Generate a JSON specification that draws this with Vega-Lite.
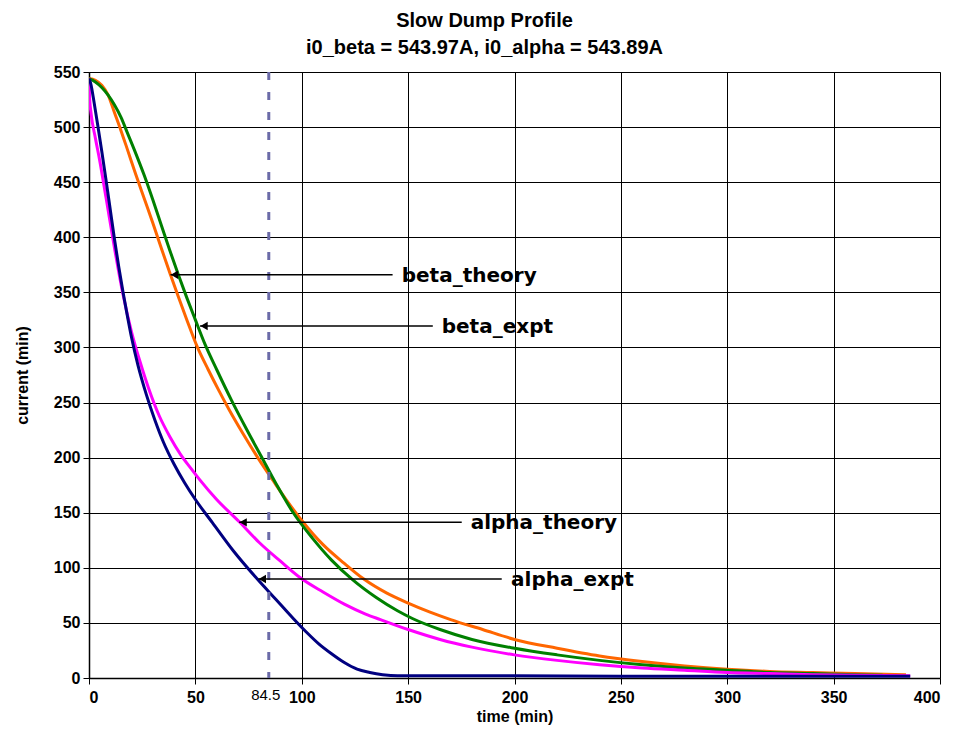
{
  "$schema": "https://vega.github.io/schema/vega-lite/v6.json",
  "width": 851,
  "height": 606,
  "autosize": "none",
  "padding": {"left": 89, "top": 72, "right": 19, "bottom": 58},
  "background": "white",
  "title": {
    "text": "Slow Dump Profile",
    "subtitle": "i0_beta = 543.97A, i0_alpha = 543.89A",
    "font": "Liberation Sans", "fontSize": 20, "fontWeight": "bold", "color": "black",
    "subtitleFont": "Liberation Sans", "subtitleFontSize": 20, "subtitleFontWeight": "bold", "subtitleColor": "black",
    "anchor": "middle", "dx": -30, "offset": 6, "subtitlePadding": 7
  },
  "config": {
    "view": {"stroke": "#909090", "strokeWidth": 1},
    "axis": {
      "labelFont": "Liberation Sans", "labelFontSize": 16, "labelFontWeight": "bold", "labelColor": "black",
      "titleFont": "Liberation Sans", "titleFontSize": 16, "titleFontWeight": "bold", "titleColor": "black",
      "domainColor": "black", "tickColor": "black", "gridColor": "black", "gridOpacity": 1, "gridWidth": 1,
      "tickSize": 6, "domainWidth": 1.5
    }
  },
  "datasets": {
    "curves": [
      {"series": "beta_theory", "t": 0, "i": 544}, {"series": "beta_theory", "t": 3, "i": 542.5}, {"series": "beta_theory", "t": 6, "i": 538},
      {"series": "beta_theory", "t": 9, "i": 529}, {"series": "beta_theory", "t": 12, "i": 513}, {"series": "beta_theory", "t": 15, "i": 497},
      {"series": "beta_theory", "t": 18, "i": 480}, {"series": "beta_theory", "t": 22, "i": 457}, {"series": "beta_theory", "t": 26, "i": 435},
      {"series": "beta_theory", "t": 30, "i": 413}, {"series": "beta_theory", "t": 34, "i": 390}, {"series": "beta_theory", "t": 38.3, "i": 366},
      {"series": "beta_theory", "t": 42, "i": 346}, {"series": "beta_theory", "t": 46, "i": 325}, {"series": "beta_theory", "t": 51, "i": 300},
      {"series": "beta_theory", "t": 56, "i": 280}, {"series": "beta_theory", "t": 61, "i": 261}, {"series": "beta_theory", "t": 66, "i": 243},
      {"series": "beta_theory", "t": 72, "i": 223}, {"series": "beta_theory", "t": 80, "i": 198}, {"series": "beta_theory", "t": 86.6, "i": 179},
      {"series": "beta_theory", "t": 93, "i": 161}, {"series": "beta_theory", "t": 100, "i": 143}, {"series": "beta_theory", "t": 110, "i": 121},
      {"series": "beta_theory", "t": 120, "i": 104}, {"series": "beta_theory", "t": 129, "i": 90}, {"series": "beta_theory", "t": 140, "i": 77},
      {"series": "beta_theory", "t": 150, "i": 68}, {"series": "beta_theory", "t": 160, "i": 60}, {"series": "beta_theory", "t": 170, "i": 53},
      {"series": "beta_theory", "t": 185, "i": 44}, {"series": "beta_theory", "t": 200, "i": 35}, {"series": "beta_theory", "t": 220, "i": 27},
      {"series": "beta_theory", "t": 240, "i": 20}, {"series": "beta_theory", "t": 260, "i": 15}, {"series": "beta_theory", "t": 280, "i": 11},
      {"series": "beta_theory", "t": 300, "i": 8}, {"series": "beta_theory", "t": 320, "i": 6}, {"series": "beta_theory", "t": 340, "i": 5},
      {"series": "beta_theory", "t": 360, "i": 4}, {"series": "beta_theory", "t": 384, "i": 3},

      {"series": "beta_expt", "t": 0, "i": 544}, {"series": "beta_expt", "t": 3, "i": 541}, {"series": "beta_expt", "t": 6, "i": 536},
      {"series": "beta_expt", "t": 9, "i": 529}, {"series": "beta_expt", "t": 12, "i": 520}, {"series": "beta_expt", "t": 15, "i": 509},
      {"series": "beta_expt", "t": 18, "i": 495}, {"series": "beta_expt", "t": 21.6, "i": 478}, {"series": "beta_expt", "t": 26, "i": 456},
      {"series": "beta_expt", "t": 30, "i": 434}, {"series": "beta_expt", "t": 34, "i": 411}, {"series": "beta_expt", "t": 38, "i": 388},
      {"series": "beta_expt", "t": 42, "i": 366}, {"series": "beta_expt", "t": 46, "i": 345}, {"series": "beta_expt", "t": 50, "i": 325},
      {"series": "beta_expt", "t": 54.5, "i": 303}, {"series": "beta_expt", "t": 60, "i": 280}, {"series": "beta_expt", "t": 67, "i": 252},
      {"series": "beta_expt", "t": 74, "i": 226}, {"series": "beta_expt", "t": 81, "i": 201}, {"series": "beta_expt", "t": 88, "i": 176},
      {"series": "beta_expt", "t": 96, "i": 150}, {"series": "beta_expt", "t": 105, "i": 127}, {"series": "beta_expt", "t": 114, "i": 107},
      {"series": "beta_expt", "t": 124, "i": 89}, {"series": "beta_expt", "t": 135, "i": 73}, {"series": "beta_expt", "t": 145, "i": 61},
      {"series": "beta_expt", "t": 152, "i": 54}, {"series": "beta_expt", "t": 165, "i": 44}, {"series": "beta_expt", "t": 180, "i": 35},
      {"series": "beta_expt", "t": 200, "i": 27}, {"series": "beta_expt", "t": 220, "i": 21}, {"series": "beta_expt", "t": 240, "i": 16},
      {"series": "beta_expt", "t": 260, "i": 12}, {"series": "beta_expt", "t": 280, "i": 9}, {"series": "beta_expt", "t": 300, "i": 7},
      {"series": "beta_expt", "t": 320, "i": 5}, {"series": "beta_expt", "t": 340, "i": 4}, {"series": "beta_expt", "t": 360, "i": 3},
      {"series": "beta_expt", "t": 373, "i": 2.5},

      {"series": "alpha_theory", "t": 0, "i": 544}, {"series": "alpha_theory", "t": 0.3, "i": 526}, {"series": "alpha_theory", "t": 1, "i": 512},
      {"series": "alpha_theory", "t": 3, "i": 490}, {"series": "alpha_theory", "t": 5, "i": 470}, {"series": "alpha_theory", "t": 8, "i": 436},
      {"series": "alpha_theory", "t": 12, "i": 390}, {"series": "alpha_theory", "t": 16, "i": 348}, {"series": "alpha_theory", "t": 20, "i": 314},
      {"series": "alpha_theory", "t": 24, "i": 287}, {"series": "alpha_theory", "t": 28, "i": 263}, {"series": "alpha_theory", "t": 33, "i": 238},
      {"series": "alpha_theory", "t": 38, "i": 219}, {"series": "alpha_theory", "t": 43, "i": 203}, {"series": "alpha_theory", "t": 48, "i": 190},
      {"series": "alpha_theory", "t": 52, "i": 180}, {"series": "alpha_theory", "t": 60, "i": 162}, {"series": "alpha_theory", "t": 70.5, "i": 142},
      {"series": "alpha_theory", "t": 80, "i": 123}, {"series": "alpha_theory", "t": 90, "i": 106}, {"series": "alpha_theory", "t": 100, "i": 90},
      {"series": "alpha_theory", "t": 110, "i": 78}, {"series": "alpha_theory", "t": 120, "i": 67}, {"series": "alpha_theory", "t": 130, "i": 58},
      {"series": "alpha_theory", "t": 137, "i": 53}, {"series": "alpha_theory", "t": 150, "i": 44}, {"series": "alpha_theory", "t": 165, "i": 35},
      {"series": "alpha_theory", "t": 180, "i": 28}, {"series": "alpha_theory", "t": 200, "i": 21}, {"series": "alpha_theory", "t": 220, "i": 16},
      {"series": "alpha_theory", "t": 240, "i": 12}, {"series": "alpha_theory", "t": 260, "i": 9}, {"series": "alpha_theory", "t": 280, "i": 7},
      {"series": "alpha_theory", "t": 300, "i": 5}, {"series": "alpha_theory", "t": 320, "i": 4}, {"series": "alpha_theory", "t": 340, "i": 3},
      {"series": "alpha_theory", "t": 360, "i": 2.5}, {"series": "alpha_theory", "t": 386, "i": 2},

      {"series": "alpha_expt", "t": 0, "i": 544}, {"series": "alpha_expt", "t": 1, "i": 538}, {"series": "alpha_expt", "t": 2, "i": 527},
      {"series": "alpha_expt", "t": 4, "i": 503}, {"series": "alpha_expt", "t": 6, "i": 478}, {"series": "alpha_expt", "t": 8, "i": 452},
      {"series": "alpha_expt", "t": 10, "i": 425}, {"series": "alpha_expt", "t": 12, "i": 398}, {"series": "alpha_expt", "t": 14, "i": 373},
      {"series": "alpha_expt", "t": 16, "i": 350}, {"series": "alpha_expt", "t": 18, "i": 329}, {"series": "alpha_expt", "t": 20, "i": 309},
      {"series": "alpha_expt", "t": 23, "i": 284}, {"series": "alpha_expt", "t": 27, "i": 257}, {"series": "alpha_expt", "t": 31, "i": 234},
      {"series": "alpha_expt", "t": 35, "i": 214}, {"series": "alpha_expt", "t": 40, "i": 194}, {"series": "alpha_expt", "t": 45, "i": 177},
      {"series": "alpha_expt", "t": 50, "i": 162}, {"series": "alpha_expt", "t": 58, "i": 141}, {"series": "alpha_expt", "t": 68, "i": 115},
      {"series": "alpha_expt", "t": 79, "i": 90}, {"series": "alpha_expt", "t": 88, "i": 71}, {"series": "alpha_expt", "t": 96, "i": 54},
      {"series": "alpha_expt", "t": 102, "i": 42}, {"series": "alpha_expt", "t": 108, "i": 31}, {"series": "alpha_expt", "t": 114, "i": 22},
      {"series": "alpha_expt", "t": 120, "i": 14}, {"series": "alpha_expt", "t": 126, "i": 8}, {"series": "alpha_expt", "t": 132, "i": 5},
      {"series": "alpha_expt", "t": 138, "i": 3}, {"series": "alpha_expt", "t": 145, "i": 2}, {"series": "alpha_expt", "t": 200, "i": 2},
      {"series": "alpha_expt", "t": 250, "i": 1.5}, {"series": "alpha_expt", "t": 300, "i": 1.5}, {"series": "alpha_expt", "t": 386, "i": 1.5}
    ],
    "marker": [{"t": 84.5, "label": "84.5"}],
    "notes": [
      {"label": "beta_theory", "tip": 38.3, "end": 142.7, "textx": 147, "i": 366},
      {"label": "beta_expt", "tip": 52.2, "end": 161.6, "textx": 165.8, "i": 319.5},
      {"label": "alpha_theory", "tip": 70.6, "end": 175.2, "textx": 179.4, "i": 141.3},
      {"label": "alpha_expt", "tip": 79.6, "end": 194, "textx": 198.4, "i": 89.9}
    ]
  },
  "layer": [
    {
      "data": {"name": "curves"},
      "mark": {"type": "line", "strokeWidth": 3, "interpolate": "monotone", "clip": true},
      "encoding": {
        "x": {"field": "t", "type": "quantitative", "scale": {"domain": [0, 400], "nice": false},
          "axis": {"values": [0, 50, 100, 150, 200, 250, 300, 350, 400], "title": "time (min)", "grid": true, "labelPadding": 5, "titlePadding": 3}},
        "y": {"field": "i", "type": "quantitative", "scale": {"domain": [0, 550], "nice": false},
          "axis": {"values": [0, 50, 100, 150, 200, 250, 300, 350, 400, 450, 500, 550], "title": "current (min)", "grid": true, "labelPadding": 3, "titlePadding": 23}},
        "color": {"field": "series", "type": "nominal",
          "scale": {"domain": ["beta_theory", "beta_expt", "alpha_theory", "alpha_expt"], "range": ["#FF6600", "#008000", "#FF00FF", "#000080"]},
          "legend": null}
      }
    },
    {
      "data": {"name": "marker"},
      "mark": {"type": "rule", "color": "#6B6BA8", "strokeWidth": 3, "strokeDash": [8, 12]},
      "encoding": {"x": {"field": "t", "type": "quantitative"}}
    },
    {
      "data": {"name": "marker"},
      "mark": {"type": "text", "font": "Liberation Sans", "fontSize": 15, "color": "black", "dy": 17, "dx": -3, "align": "center", "baseline": "middle"},
      "encoding": {"x": {"field": "t", "type": "quantitative"}, "y": {"datum": 0}, "text": {"field": "label"}}
    },
    {
      "data": {"name": "notes"},
      "mark": {"type": "rule", "color": "black", "strokeWidth": 1.5},
      "encoding": {"x": {"field": "tip", "type": "quantitative"}, "x2": {"field": "end"}, "y": {"field": "i", "type": "quantitative"}}
    },
    {
      "data": {"name": "notes"},
      "mark": {"type": "point", "shape": "triangle-left", "filled": true, "color": "black", "size": 70, "opacity": 1, "xOffset": 4},
      "encoding": {"x": {"field": "tip", "type": "quantitative"}, "y": {"field": "i", "type": "quantitative"}}
    },
    {
      "data": {"name": "notes"},
      "mark": {"type": "text", "font": "DejaVu Sans", "fontSize": 20, "fontWeight": "bold", "color": "black", "align": "left", "baseline": "middle", "dy": 1},
      "encoding": {"x": {"field": "textx", "type": "quantitative"}, "y": {"field": "i", "type": "quantitative"}, "text": {"field": "label"}}
    }
  ]
}
